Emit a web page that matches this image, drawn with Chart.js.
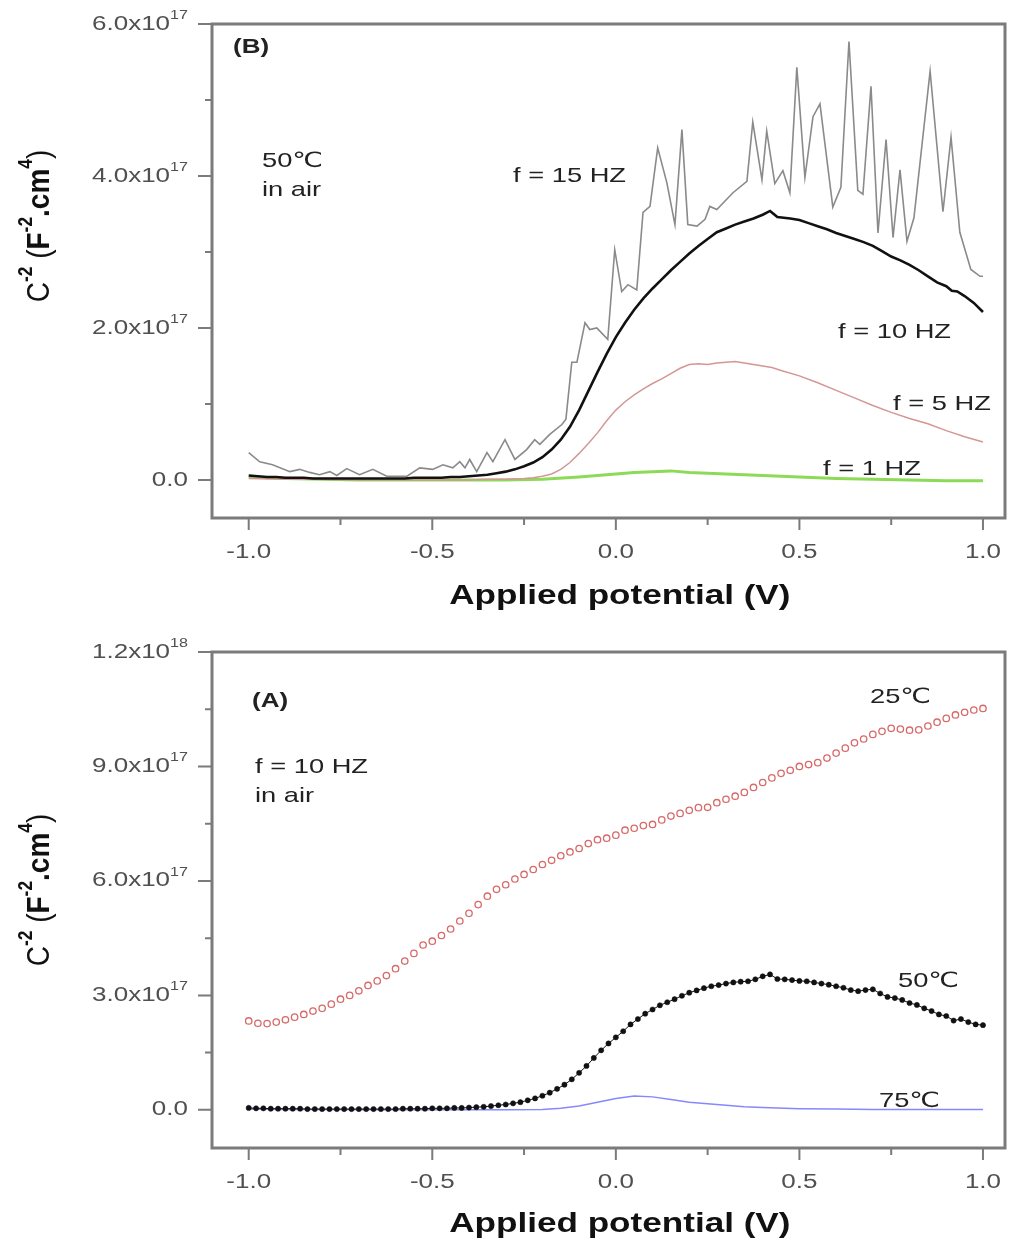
<!DOCTYPE html>
<html>
<head>
<meta charset="utf-8">
<title>Mott-Schottky plots</title>
<script src="https://cdn.jsdelivr.net/npm/chart.js@4.4.1/dist/chart.umd.min.js"></script>
<style>
  html, body { margin: 0; padding: 0; background: #ffffff; }
  #wrap { position: relative; width: 1017px; height: 1242px; overflow: hidden; }
  canvas { position: absolute; left: 0; }
  #panelB { top: 0; }
  #panelA { top: 620px; }
</style>
</head>
<body>
<div id="wrap">
  <canvas id="panelB" width="1017" height="620"></canvas>
  <canvas id="panelA" width="1017" height="622"></canvas>
</div>
<script>
// ---------- Panel (B): 50 °C in air, several frequencies (C^-2 in units of 1e17) ----------
const xB15 = [-1.0, -0.97, -0.935, -0.888, -0.861, -0.834, -0.807, -0.779, -0.76, -0.733, -0.698, -0.662, -0.624,
  -0.569, -0.534, -0.499, -0.471, -0.444, -0.425, -0.411, -0.398, -0.379, -0.351, -0.335, -0.302, -0.275, -0.243,
  -0.221, -0.207, -0.18, -0.147, -0.136, -0.12, -0.106, -0.084, -0.071, -0.052, -0.022, -0.003, 0.016, 0.033, 0.057,
  0.074, 0.093, 0.114, 0.139, 0.161, 0.18, 0.196, 0.221, 0.243, 0.256, 0.275, 0.319, 0.357, 0.373, 0.398, 0.411,
  0.433, 0.455, 0.474, 0.493, 0.515, 0.537, 0.556, 0.591, 0.613, 0.635, 0.659, 0.673, 0.695, 0.714, 0.736, 0.755,
  0.774, 0.793, 0.812, 0.856, 0.891, 0.913, 0.937, 0.967, 0.992, 1.0];
const yB15 = [0.36, 0.24, 0.2, 0.11, 0.14, 0.1, 0.07, 0.11, 0.06, 0.15, 0.07, 0.14, 0.05,
  0.05, 0.16, 0.14, 0.2, 0.16, 0.24, 0.16, 0.27, 0.11, 0.36, 0.24, 0.53, 0.27, 0.4,
  0.53, 0.47, 0.6, 0.73, 0.8, 1.55, 1.55, 2.07, 1.98, 2.0, 1.85, 3.03, 2.48, 2.57, 2.5,
  3.52, 3.6, 4.37, 3.91, 3.36, 4.61, 3.36, 3.34, 3.43, 3.6, 3.56, 3.78, 3.93, 4.71, 3.95, 4.59,
  3.9, 4.07, 3.78, 5.43, 3.98, 4.78, 4.95, 3.59, 3.85, 5.77, 3.81, 3.76, 5.18, 3.25, 4.48, 3.19,
  4.08, 3.14, 3.45, 5.38, 3.53, 4.51, 3.26, 2.77, 2.68, 2.68];

const xB10 = [-1.0, -0.975, -0.95, -0.925, -0.9, -0.875, -0.85, -0.825, -0.8, -0.775, -0.75, -0.725, -0.7, -0.675,
  -0.65, -0.625, -0.6, -0.575, -0.55, -0.525, -0.5, -0.475, -0.45, -0.425, -0.4, -0.375, -0.35, -0.325, -0.3,
  -0.275, -0.25, -0.225, -0.2, -0.175, -0.15, -0.125, -0.1, -0.075, -0.05, -0.025, 0.0, 0.025, 0.05, 0.075, 0.1,
  0.125, 0.15, 0.175, 0.2, 0.225, 0.25, 0.275, 0.3, 0.325, 0.35, 0.375, 0.4, 0.42, 0.44, 0.475, 0.5, 0.525, 0.55,
  0.575, 0.6, 0.625, 0.65, 0.675, 0.7, 0.725, 0.75, 0.775, 0.8, 0.825, 0.85, 0.875, 0.9, 0.915, 0.93, 0.95, 0.975, 1.0];
const yB10 = [0.06, 0.05, 0.04, 0.04, 0.03, 0.03, 0.03, 0.02, 0.02, 0.02, 0.02, 0.02, 0.02, 0.02,
  0.02, 0.02, 0.02, 0.02, 0.03, 0.03, 0.03, 0.03, 0.04, 0.04, 0.05, 0.06, 0.07, 0.09, 0.11,
  0.14, 0.18, 0.23, 0.3, 0.4, 0.53, 0.7, 0.92, 1.17, 1.42, 1.66, 1.88, 2.07, 2.24, 2.39, 2.52,
  2.64, 2.76, 2.87, 2.98, 3.08, 3.17, 3.26, 3.31, 3.36, 3.4, 3.44, 3.49, 3.54, 3.46, 3.44, 3.42, 3.38, 3.34,
  3.3, 3.25, 3.21, 3.17, 3.13, 3.08, 3.01, 2.94, 2.89, 2.83, 2.76, 2.68, 2.6, 2.55, 2.49, 2.48, 2.42, 2.33, 2.21];

const xB5 = [-1.0, -0.9, -0.8, -0.7, -0.6, -0.5, -0.4, -0.35, -0.3, -0.25, -0.225, -0.2, -0.175, -0.15, -0.125,
  -0.1, -0.075, -0.05, -0.025, 0.0, 0.025, 0.05, 0.075, 0.1, 0.125, 0.15, 0.175, 0.2, 0.225, 0.25, 0.275, 0.3,
  0.325, 0.35, 0.375, 0.4, 0.425, 0.45, 0.5, 0.55, 0.6, 0.65, 0.7, 0.75, 0.8, 0.85, 0.9, 0.95, 1.0];
const yB5 = [0.02, 0.01, 0.01, 0.0, 0.0, 0.0, 0.0, 0.01, 0.01, 0.02, 0.03, 0.05, 0.08, 0.14, 0.23,
  0.35, 0.48, 0.62, 0.78, 0.92, 1.03, 1.12, 1.2, 1.27, 1.33, 1.4, 1.47, 1.52, 1.53, 1.52, 1.54, 1.55,
  1.56, 1.54, 1.52, 1.5, 1.48, 1.44, 1.37, 1.28, 1.18, 1.08, 0.98, 0.89, 0.81, 0.74, 0.65, 0.57, 0.5];

const xB1 = [-1.0, -0.9, -0.8, -0.7, -0.6, -0.5, -0.4, -0.3, -0.2, -0.1, 0.0, 0.05, 0.1, 0.15, 0.2, 0.3, 0.4,
  0.5, 0.6, 0.7, 0.8, 0.9, 1.0];
const yB1 = [0.04, 0.02, 0.01, 0.0, 0.0, 0.0, 0.0, 0.0, 0.01, 0.04, 0.08, 0.1, 0.11, 0.12, 0.1, 0.08, 0.06,
  0.04, 0.02, 0.01, 0.0, -0.01, -0.01];

// ---------- Panel (A): f = 10 Hz in air, three temperatures ----------
const xA25 = [-1.0, -0.975, -0.95, -0.925, -0.9, -0.875, -0.85, -0.825, -0.8, -0.775, -0.75, -0.725, -0.7, -0.675,
  -0.65, -0.625, -0.6, -0.575, -0.55, -0.525, -0.5, -0.475, -0.45, -0.425, -0.4, -0.375, -0.35, -0.325, -0.3,
  -0.275, -0.25, -0.225, -0.2, -0.175, -0.15, -0.125, -0.1, -0.075, -0.05, -0.025, 0.0, 0.025, 0.05, 0.075, 0.1,
  0.125, 0.15, 0.175, 0.2, 0.225, 0.25, 0.275, 0.3, 0.325, 0.35, 0.375, 0.4, 0.425, 0.45, 0.475, 0.5, 0.525, 0.55,
  0.575, 0.6, 0.625, 0.65, 0.675, 0.7, 0.725, 0.75, 0.775, 0.8, 0.825, 0.85, 0.875, 0.9, 0.925, 0.95, 0.975, 1.0];
const yA25 = [2.33, 2.27, 2.26, 2.3, 2.36, 2.43, 2.5, 2.59, 2.66, 2.77, 2.9, 3.0, 3.12, 3.26,
  3.38, 3.52, 3.7, 3.9, 4.1, 4.32, 4.42, 4.57, 4.74, 4.95, 5.15, 5.38, 5.6, 5.78, 5.9,
  6.05, 6.17, 6.3, 6.43, 6.54, 6.66, 6.76, 6.85, 6.98, 7.08, 7.12, 7.2, 7.33, 7.38, 7.45, 7.48,
  7.6, 7.7, 7.77, 7.85, 7.92, 7.93, 8.05, 8.14, 8.22, 8.32, 8.45, 8.58, 8.7, 8.82, 8.9, 9.0, 9.05, 9.1,
  9.22, 9.35, 9.48, 9.62, 9.72, 9.84, 9.92, 10.0, 9.98, 9.95, 9.96, 10.06, 10.16, 10.26, 10.35, 10.42, 10.48, 10.52];

const xA50 = [-1.0, -0.98, -0.96, -0.94, -0.92, -0.9, -0.88, -0.86, -0.84, -0.82, -0.8, -0.78, -0.76, -0.74, -0.72,
  -0.7, -0.68, -0.66, -0.64, -0.62, -0.6, -0.58, -0.56, -0.54, -0.52, -0.5, -0.48, -0.46, -0.44, -0.42, -0.4,
  -0.38, -0.36, -0.34, -0.32, -0.3, -0.28, -0.26, -0.24, -0.22, -0.2, -0.18, -0.16, -0.14, -0.12, -0.1, -0.08,
  -0.06, -0.04, -0.02, 0.0, 0.02, 0.04, 0.06, 0.08, 0.1, 0.12, 0.14, 0.16, 0.18, 0.2, 0.22, 0.24, 0.26, 0.28,
  0.3, 0.32, 0.34, 0.36, 0.38, 0.4, 0.42, 0.44, 0.46, 0.48, 0.5, 0.52, 0.54, 0.56, 0.58, 0.6, 0.62, 0.64, 0.66,
  0.68, 0.7, 0.72, 0.74, 0.76, 0.78, 0.8, 0.82, 0.84, 0.86, 0.88, 0.9, 0.92, 0.94, 0.96, 0.98, 1.0];
const yA50 = [0.05, 0.04, 0.04, 0.03, 0.03, 0.03, 0.03, 0.03, 0.02, 0.02, 0.02, 0.02, 0.02, 0.02, 0.02,
  0.02, 0.02, 0.02, 0.02, 0.02, 0.02, 0.03, 0.03, 0.03, 0.03, 0.04, 0.04, 0.04, 0.05, 0.05, 0.06,
  0.07, 0.08, 0.1, 0.12, 0.14, 0.17, 0.2, 0.25, 0.3, 0.37, 0.45, 0.55, 0.66, 0.8, 0.97, 1.15,
  1.36, 1.56, 1.74, 1.9, 2.06, 2.24, 2.38, 2.52, 2.63, 2.74, 2.82, 2.9, 2.99, 3.07, 3.13, 3.19, 3.24, 3.27,
  3.31, 3.34, 3.36, 3.37, 3.42, 3.5, 3.55, 3.43, 3.42, 3.4, 3.38, 3.37, 3.34, 3.31, 3.28, 3.24, 3.2, 3.14, 3.11,
  3.14, 3.16, 3.05, 2.96, 2.93, 2.88, 2.8, 2.75, 2.66, 2.59, 2.5, 2.46, 2.34, 2.38, 2.3, 2.24, 2.22];

const xA75 = [-1.0, -0.9, -0.8, -0.6, -0.4, -0.3, -0.2, -0.15, -0.1, -0.05, 0.0, 0.05, 0.1, 0.15, 0.2, 0.25, 0.3,
  0.35, 0.4, 0.5, 0.6, 0.7, 0.8, 0.9, 1.0];
const yA75 = [0.02, 0.01, 0.01, 0.0, 0.0, 0.0, 0.01, 0.04, 0.1, 0.2, 0.3, 0.36, 0.34, 0.27, 0.2, 0.16, 0.12,
  0.08, 0.06, 0.03, 0.02, 0.01, 0.01, 0.01, 0.01];

// ---------- Axis ticks ----------
const xTicksMajor = [-1.0, -0.5, 0.0, 0.5, 1.0];
const xTicksMinor = [-0.75, -0.25, 0.25, 0.75];
const yTicksMajorB = [0, 2, 4, 6];
const yTicksMinorB = [1, 3, 5];
const yTicksMajorA = [0, 3, 6, 9, 12];
const yTicksMinorA = [1.5, 4.5, 7.5, 10.5];

const xTitle = 'Applied potential (V)';
const yTitleSegs = [
  { t: 'C' }, { t: '-2', sup: true, bold: true }, { t: ' (' }, { t: 'F', bold: true },
  { t: '-2', sup: true, bold: true }, { t: '.cm', bold: true }, { t: '4', sup: true, bold: true }, { t: ')' }
];

const FONT = '"Liberation Sans", Arial, "DejaVu Sans", sans-serif';
const SX = 1.3;            // horizontal widening of the lettering
const FRAME = '#7b7b7b';

function pts(xs, ys) { return xs.map((x, i) => ({ x: x, y: ys[i] })); }

function segFont(seg, size) {
  const s = seg.sup ? size * 0.62 : size;
  return (seg.bold ? 'bold ' : '') + s.toFixed(1) + 'px ' + FONT;
}

// Draws a run of text segments at the current origin (0,0).
function drawRich(ctx, segs, o) {
  ctx.save();
  ctx.fillStyle = o.color || '#000';
  ctx.textBaseline = o.baseline || 'alphabetic';
  ctx.textAlign = 'left';
  let w = 0;
  for (const s of segs) { ctx.font = segFont(s, o.size); w += ctx.measureText(s.t).width; }
  ctx.scale(o.sx || 1, o.sy || 1);
  let cx = 0;
  if (o.align === 'right') cx = -w; else if (o.align === 'center') cx = -w / 2;
  for (const s of segs) {
    ctx.font = segFont(s, o.size);
    const dy = s.sup ? -o.size * 0.42 : 0;
    ctx.fillText(s.t, cx, dy);
    cx += ctx.measureText(s.t).width;
  }
  ctx.restore();
}

function textAt(ctx, x, y, segs, o) {
  ctx.save();
  ctx.translate(x, y);
  drawRich(ctx, typeof segs === 'string' ? [{ t: segs, bold: o.bold }] : segs, o);
  ctx.restore();
}

function sciLabel(v) {
  if (v === 0) return [{ t: '0.0' }];
  const real = v * 1e17;
  const e = Math.floor(Math.log10(real) + 1e-9);
  const m = real / Math.pow(10, e);
  return [{ t: m.toFixed(1) + 'x10' }, { t: String(e), sup: true }];
}

// Frame, outward ticks, tick labels, axis titles and in-plot notes.
const decorations = {
  id: 'decorations',
  afterDraw(chart, args, opts) {
    const ctx = chart.ctx;
    const a = chart.chartArea;
    const xs = chart.scales.x, ys = chart.scales.y;
    ctx.save();
    ctx.strokeStyle = FRAME;
    ctx.lineWidth = 2;
    ctx.beginPath();
    for (const v of xTicksMajor) { const p = xs.getPixelForValue(v); ctx.moveTo(p, a.bottom); ctx.lineTo(p, a.bottom + 12); }
    for (const v of xTicksMinor) { const p = xs.getPixelForValue(v); ctx.moveTo(p, a.bottom); ctx.lineTo(p, a.bottom + 7); }
    for (const v of opts.yMajor) { const p = ys.getPixelForValue(v); ctx.moveTo(a.left, p); ctx.lineTo(a.left - 14, p); }
    for (const v of opts.yMinor) { const p = ys.getPixelForValue(v); ctx.moveTo(a.left, p); ctx.lineTo(a.left - 7, p); }
    ctx.stroke();
    ctx.lineWidth = 3;
    ctx.strokeRect(a.left, a.top, a.right - a.left, a.bottom - a.top);
    ctx.restore();

    for (const v of xTicksMajor) {
      textAt(ctx, xs.getPixelForValue(v), a.bottom + 40, v.toFixed(1), { size: 20, sx: SX, align: 'center', color: '#505050' });
    }
    for (const v of opts.yMajor) {
      textAt(ctx, a.left - 24, ys.getPixelForValue(v), sciLabel(v), { size: 20, sx: SX, align: 'right', color: '#505050', baseline: 'middle' });
    }
    textAt(ctx, xs.getPixelForValue(0.0) + 4, a.bottom + opts.xTitleOffset, xTitle, { size: 27, bold: true, sx: SX, align: 'center', color: '#111' });

    ctx.save();
    ctx.translate(opts.yTitleX, (a.top + a.bottom) / 2 + opts.yTitleShift);
    ctx.rotate(-Math.PI / 2);
    drawRich(ctx, yTitleSegs, { size: 28, sx: 1, sy: 1.15, align: 'center', color: '#111', baseline: 'middle' });
    ctx.restore();

    for (const n of opts.notes) {
      textAt(ctx, n.x, n.y, n.text, { size: n.size || 21, bold: n.bold, sx: SX, align: 'left', color: '#222' });
    }
  }
};

function axisOptions(ymin, ymax, leftW, bottomH) {
  return {
    x: {
      type: 'linear', min: -1.1, max: 1.06,
      grid: { display: false }, border: { display: false }, ticks: { display: false },
      afterFit(s) { s.height = bottomH; }
    },
    y: {
      type: 'linear', min: ymin, max: ymax,
      grid: { display: false }, border: { display: false }, ticks: { display: false },
      afterFit(s) { s.width = leftW; }
    }
  };
}

const common = {
  responsive: false,
  animation: false,
  events: [],
  plugins: { legend: { display: false }, tooltip: { enabled: false } }
};

new Chart(document.getElementById('panelB'), {
  type: 'line',
  data: {
    datasets: [
      { data: pts(xB1, yB1), borderColor: 'rgb(140,218,88)', borderWidth: 3, pointRadius: 0, order: 4 },
      { data: pts(xB5, yB5), borderColor: 'rgb(212,150,150)', borderWidth: 1.5, pointRadius: 0, order: 3 },
      { data: pts(xB10, yB10), borderColor: '#111111', borderWidth: 2.6, pointRadius: 0, order: 2 },
      { data: pts(xB15, yB15), borderColor: 'rgb(138,138,138)', borderWidth: 1.6, pointRadius: 0, order: 1 }
    ]
  },
  options: Object.assign({}, common, {
    layout: { padding: { top: 24, right: 12, left: 0, bottom: 0 } },
    scales: axisOptions(-0.5, 6, 212, 102),
    plugins: Object.assign({}, common.plugins, {
      decorations: {
        yMajor: yTicksMajorB, yMinor: yTicksMinorB, xTitleOffset: 86, yTitleX: 40, yTitleShift: -45,
        notes: [
          { x: 233, y: 53, text: '(B)', bold: true, size: 20 },
          { x: 262, y: 167, text: '50\u2103' },
          { x: 262, y: 196, text: 'in air' },
          { x: 513, y: 182, text: 'f = 15 HZ' },
          { x: 838, y: 338, text: 'f = 10 HZ' },
          { x: 893, y: 410, text: 'f = 5 HZ' },
          { x: 823, y: 475, text: 'f = 1 HZ' }
        ]
      }
    })
  }),
  plugins: [decorations]
});

new Chart(document.getElementById('panelA'), {
  type: 'line',
  data: {
    datasets: [
      { data: pts(xA75, yA75), borderColor: 'rgb(135,135,255)', borderWidth: 1.5, pointRadius: 0, order: 3 },
      { data: pts(xA50, yA50), borderColor: '#111111', borderWidth: 1, pointRadius: 2.6,
        pointBackgroundColor: '#111111', pointBorderColor: '#111111', pointBorderWidth: 0.5, order: 2 },
      { data: pts(xA25, yA25), showLine: false, pointRadius: 3.2, pointBorderWidth: 1.3,
        pointBorderColor: 'rgb(215,105,105)', pointBackgroundColor: 'rgba(255,255,255,0)', borderColor: 'rgb(215,105,105)', order: 1 }
    ]
  },
  options: Object.assign({}, common, {
    layout: { padding: { top: 32, right: 12, left: 0, bottom: 0 } },
    scales: axisOptions(-1, 12, 212, 94),
    plugins: Object.assign({}, common.plugins, {
      decorations: {
        yMajor: yTicksMajorA, yMinor: yTicksMinorA, xTitleOffset: 84, yTitleX: 40, yTitleShift: -10,
        notes: [
          { x: 252, y: 707 - 620, text: '(A)', bold: true, size: 20 },
          { x: 255, y: 773 - 620, text: 'f = 10 HZ' },
          { x: 255, y: 802 - 620, text: 'in air' },
          { x: 870, y: 703 - 620, text: '25\u2103' },
          { x: 898, y: 987 - 620, text: '50\u2103' },
          { x: 879, y: 1107 - 620, text: '75\u2103' }
        ]
      }
    })
  }),
  plugins: [decorations]
});
</script>
</body>
</html>
